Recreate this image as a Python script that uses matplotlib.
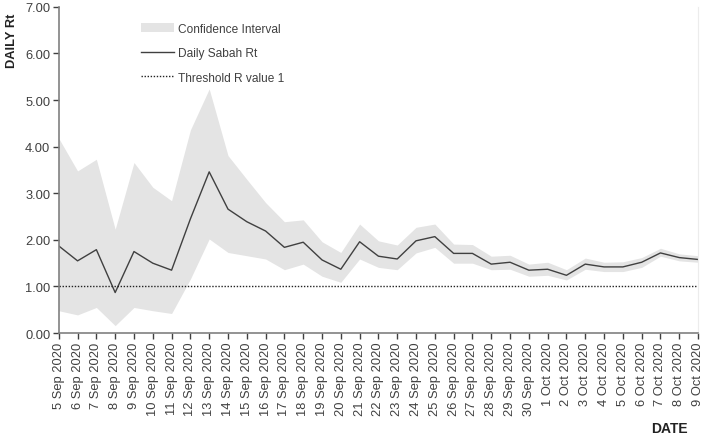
import matplotlib.pyplot as plt
from matplotlib.patches import Patch
from matplotlib.lines import Line2D

plt.rcParams['font.family'] = ['Liberation Sans', 'DejaVu Sans']

# dates on the x axis
dates = [f"{d} Sep 2020" for d in range(5, 31)] + [f"{d} Oct 2020" for d in range(1, 10)]

# daily Rt and confidence bounds
rt = [1.87, 1.55, 1.79, 0.87, 1.75, 1.50, 1.35, 2.45, 3.46, 2.66,
      2.39, 2.19, 1.84, 1.95, 1.57, 1.37, 1.96, 1.65, 1.59, 1.98,
      2.07, 1.71, 1.71, 1.48, 1.52, 1.35, 1.37, 1.24, 1.48, 1.42,
      1.42, 1.52, 1.72, 1.62, 1.58]
upper = [4.18, 3.48, 3.73, 2.23, 3.66, 3.13, 2.84, 4.36, 5.24, 3.81,
         3.30, 2.80, 2.39, 2.43, 1.96, 1.73, 2.34, 1.98, 1.89, 2.27,
         2.34, 1.91, 1.90, 1.65, 1.67, 1.48, 1.52, 1.36, 1.61, 1.52,
         1.53, 1.62, 1.82, 1.70, 1.66]
lower = [0.48, 0.39, 0.55, 0.16, 0.55, 0.48, 0.42, 1.16, 2.02, 1.73,
         1.66, 1.59, 1.36, 1.48, 1.22, 1.09, 1.59, 1.41, 1.36, 1.72,
         1.84, 1.50, 1.50, 1.36, 1.37, 1.22, 1.24, 1.14, 1.37, 1.32,
         1.32, 1.41, 1.65, 1.55, 1.52]
threshold = 1.0

x = list(range(len(dates)))
txt = '#404040'

fig = plt.figure(figsize=(7.08, 4.39), dpi=100)
ax = fig.add_axes([0.083, 0.239, 0.903, 0.743])

ax.fill_between(x, lower, upper, color='#e4e4e4', linewidth=0)
ax.plot(x, rt, color='#404040', linewidth=1.0)
ax.axhline(threshold, color='#222222', linestyle=(0, (1, 1.2)), linewidth=1.0)

ax.set_xlim(0, len(dates) - 1)
ax.set_ylim(0, 7)
ax.set_yticks(range(8))
ax.set_yticklabels([f"{v:.2f}" for v in range(8)])
ax.set_xticks(x)
ax.set_xticklabels(dates, rotation=90)
ax.tick_params(colors=txt, labelsize=9.3, length=4, width=1)
ax.tick_params(axis='x', pad=2)
ax.tick_params(axis='y', pad=2)

for s in ['left', 'bottom']:
    ax.spines[s].set_color('#808080')
    ax.spines[s].set_linewidth(1.2)
ax.spines['top'].set_visible(False)
ax.spines['right'].set_color('#ececec')

fig.text(0.009, 0.97, 'DAILY Rt', rotation=90, ha='left', va='top',
         fontsize=9.3, fontweight='bold', color='#222222')
fig.text(0.971, 0.022, 'DATE', ha='right', va='center',
         fontsize=10, fontweight='bold', color='#222222')

handles = [Patch(facecolor='#e4e4e4', edgecolor='none'),
           Line2D([], [], color='#404040', linewidth=1.0),
           Line2D([], [], color='#222222', linestyle=(0, (1, 1.2)), linewidth=1.0)]
labels = ['Confidence Interval', 'Daily Sabah Rt', 'Threshold R value 1']
leg = ax.legend(handles, labels, loc='upper left', bbox_to_anchor=(0.112, 0.985),
                frameon=False, fontsize=8.6, handlelength=2.75, labelspacing=1.05,
                handletextpad=0.35)
for t in leg.get_texts():
    t.set_color(txt)

fig.savefig('out.png', dpi=100)
